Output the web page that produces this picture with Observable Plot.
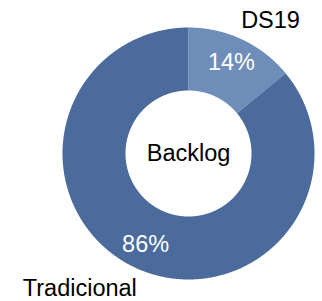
<!DOCTYPE html>
<html><head><meta charset="utf-8">
<script src="https://cdn.jsdelivr.net/npm/d3@7"></script>
<script src="https://cdn.jsdelivr.net/npm/@observablehq/plot@0.6"></script>
<style>body{margin:0;background:#fff}</style>
</head><body><div id="chart"></div>
<script>
const categories = ["DS19", "Tradicional"];
const values = [14, 86];
const centerLabel = "Backlog";
const colors = ["#6e8db9", "#4a6b9c"];

// layout
const W = 322, H = 301, cx = 188, cy = 153, R = 126, innerRatio = 0.5, labelRadius = 0.8;
const font = "Liberation Sans, Arial, sans-serif";
const fontSize = 23.5;

const total = d3.sum(values);
const slices = d3.pie().sort(null).value(d => d.value)(
  categories.map((c, i) => ({category: c, value: values[i]}))
);

const poly = [];
slices.forEach(p => {
  const n = Math.max(2, Math.ceil((p.endAngle - p.startAngle) / 0.005));
  for (let k = 0; k <= n; k++) {
    const a = p.startAngle + (p.endAngle - p.startAngle) * k / n;
    poly.push({category: p.data.category, x: Math.sin(a), y: Math.cos(a)});
  }
  for (let k = n; k >= 0; k--) {
    const a = p.startAngle + (p.endAngle - p.startAngle) * k / n;
    poly.push({category: p.data.category, x: innerRatio * Math.sin(a), y: innerRatio * Math.cos(a)});
  }
});

const pct = slices.map(p => {
  const a = (p.startAngle + p.endAngle) / 2;
  return {x: labelRadius * Math.sin(a), y: labelRadius * Math.cos(a),
          text: Math.round(p.data.value / total * 100) + "%"};
});
const cat = slices.map(p => {
  const a = (p.startAngle + p.endAngle) / 2;
  return {x: Math.sin(a), y: Math.cos(a), text: p.data.category};
});

const chart = Plot.plot({
  width: W, height: H, margin: 0,
  style: {background: "white", fontFamily: font},
  x: {domain: [-cx / R, (W - cx) / R], range: [0, W], axis: null},
  y: {domain: [-(H - cy) / R, cy / R], range: [H, 0], axis: null},
  color: {domain: categories, range: colors},
  marks: [
    Plot.line(poly, {x: "x", y: "y", z: "category", fill: "category", stroke: null, curve: "linear"}),
    Plot.text(pct, {x: "x", y: "y", text: "text", fill: "white", fontSize, fontFamily: font}),
    Plot.text([cat[0]], {x: "x", y: "y", text: "text", fill: "black", fontSize, fontFamily: font,
      textAnchor: "start", lineAnchor: "bottom", dy: -11, dx: -1}),
    Plot.text([cat[1]], {x: "x", y: "y", text: "text", fill: "black", fontSize, fontFamily: font,
      textAnchor: "end", lineAnchor: "top", dy: 12, dx: 2}),
    Plot.text([centerLabel], {x: () => 0, y: () => 0, text: d => d, fill: "black", fontSize, fontFamily: font})
  ]
});
document.getElementById("chart").appendChild(chart);
</script>
</body></html>
